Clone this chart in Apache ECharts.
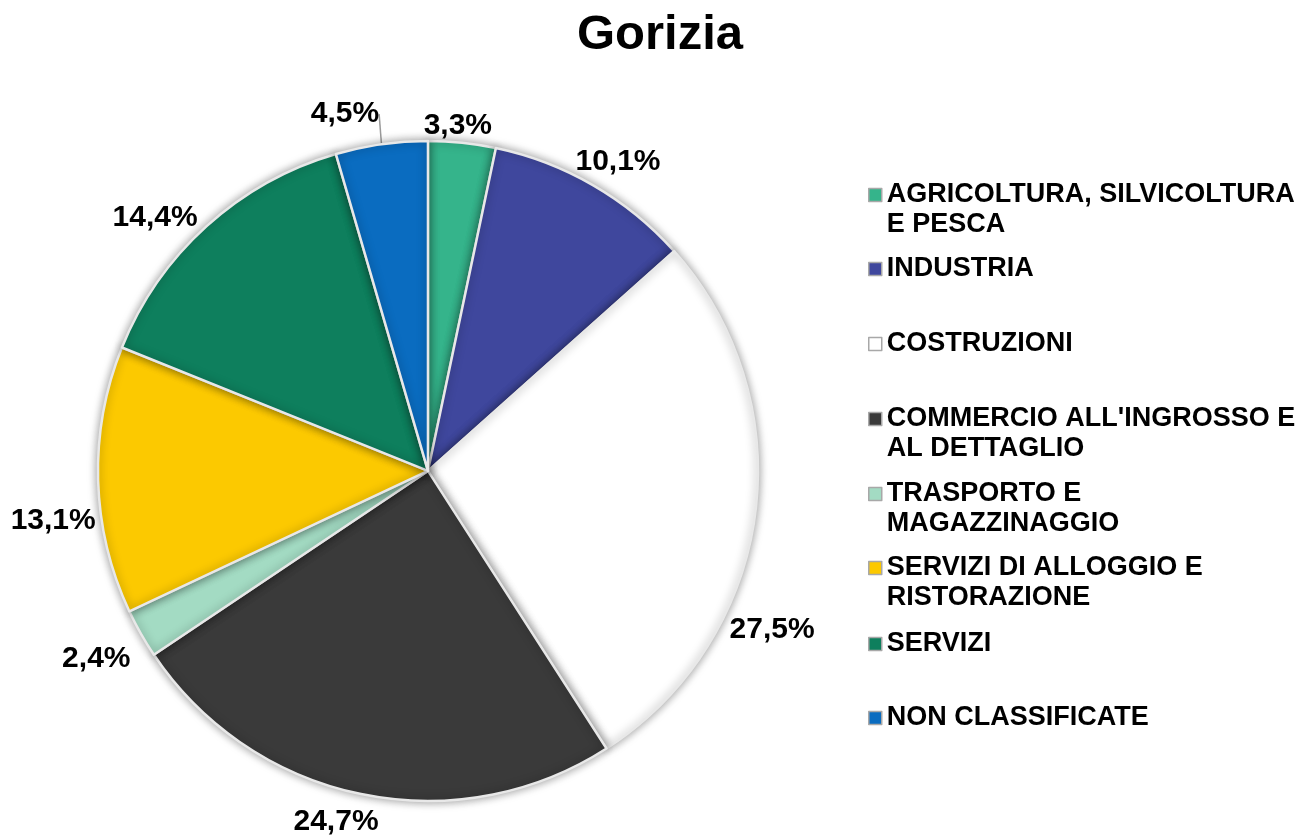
<!DOCTYPE html>
<html>
<head>
<meta charset="utf-8">
<title>Gorizia</title>
<script src="https://cdn.jsdelivr.net/npm/echarts@6/dist/echarts.min.js"></script>
<style>
	html, body { margin: 0; padding: 0; background: #fff; }
	#chart { width: 1304px; height: 835px; }
</style>
</head>
<body>
<div id="chart"></div>
<script>
// dati
var categories = [
	'AGRICOLTURA, SILVICOLTURA E PESCA',
	'INDUSTRIA',
	'COSTRUZIONI',
	"COMMERCIO ALL'INGROSSO E AL DETTAGLIO",
	'TRASPORTO E MAGAZZINAGGIO',
	'SERVIZI DI ALLOGGIO E RISTORAZIONE',
	'SERVIZI',
	'NON CLASSIFICATE'
];
var values = [3.3, 10.1, 27.5, 24.7, 2.4, 13.1, 14.4, 4.5];
var legendText = [
	'AGRICOLTURA, SILVICOLTURA\nE PESCA',
	'INDUSTRIA',
	'COSTRUZIONI',
	"COMMERCIO ALL'INGROSSO E\nAL DETTAGLIO",
	'TRASPORTO E\nMAGAZZINAGGIO',
	'SERVIZI DI ALLOGGIO E\nRISTORAZIONE',
	'SERVIZI',
	'NON CLASSIFICATE'
];
var colors = ['#35b48b', '#3f479d', '#ffffff', '#3a3a3a', '#a3dbc3', '#fcc900', '#0e7f5d', '#0a6cc0'];

// layout
var font = "'Liberation Sans', Arial, sans-serif";
var pieCenter = [0.3282, 0.564];
var pieRadius = 330;
var legendY = [195, 269, 344, 419, 494, 568, 644, 718]; // centro prima riga
// spostamenti etichette (gradi / px), come Excel "adattamento ottimale"
var labelShift = { 0: -1, 1: 1.5, 2: 17, 3: 3, 5: -6, 6: -5, 7: -5 };
var labelPush = { 0: -5, 1: -6, 3: 3, 4: 10, 6: -3, 7: 10 };

var myChart = echarts.init(document.getElementById('chart'));

var total = 0;
for (var i = 0; i < values.length; i++) total += values[i];

var legends = [];
for (var i = 0; i < categories.length; i++) {
	var lines = legendText[i].split('\n').length;
	// riga vuota in testa: il quadratino resta allineato alla prima riga
	var txt = lines > 1 ? '\n' + legendText[i] : legendText[i];
	legends.push({
		data: [categories[i]],
		left: 868,
		top: legendY[i] - 15 - (lines - 1) * 30,
		padding: 0,
		icon: 'rect',
		itemWidth: 13,
		itemHeight: 13,
		itemStyle: { borderColor: '#a8a8a8', borderWidth: 1.5, shadowBlur: 0, shadowColor: 'transparent' },
		selectedMode: false,
		formatter: (function (t) { return function () { return t; }; })(txt),
		textStyle: {
			fontFamily: font,
			fontSize: 27,
			fontWeight: 'bold',
			color: '#000',
			lineHeight: 30
		}
	});
}

var pieData = [];
for (var i = 0; i < categories.length; i++) {
	var item = { name: categories[i], value: values[i] };
	if (i === 7) {
		item.labelLine = { show: true };
	}
	pieData.push(item);
}

var option = {
	animation: false,
	color: colors,
	title: {
		text: 'Gorizia',
		left: 577,
		top: 11,
		padding: 0,
		textStyle: { fontFamily: font, fontSize: 49, fontWeight: 'bold', color: '#000' }
	},
	legend: legends,
	series: [
		{
			type: 'pie',
			radius: pieRadius,
			center: [pieCenter[0] * 100 + '%', pieCenter[1] * 100 + '%'],
			startAngle: 90,
			clockwise: true,
			avoidLabelOverlap: false,
			itemStyle: {
				borderColor: '#e8e8e8',
				borderWidth: 2.5,
				shadowBlur: 10,
				shadowColor: 'rgba(0,0,0,0.4)'
			},
			label: {
				show: true,
				position: 'outside',
				fontFamily: font,
				fontSize: 30,
				fontWeight: 'bold',
				color: '#000',
				formatter: function (p) {
					return p.value.toFixed(1).replace('.', ',') + '%';
				}
			},
			labelLine: {
				show: false,
				length: 12,
				length2: 0,
				lineStyle: { color: '#9a9a9a', width: 1.5 }
			},
			labelLayout: function (params) {
				var i = params.dataIndex;
				var before = 0;
				for (var j = 0; j < i; j++) before += values[j];
				var deg = (before + values[i] / 2) / total * 360 + (labelShift[i] || 0);
				var a = deg * Math.PI / 180;
				var sx = Math.sin(a), sy = -Math.cos(a);
				var w = params.labelRect.width, h = params.labelRect.height;
				var cx = myChart.getWidth() * pieCenter[0];
				var cy = myChart.getHeight() * pieCenter[1];
				var d = pieRadius + 4 + (labelPush[i] || 0) + Math.abs(sx) * w / 2 + Math.abs(sy) * h / 2;
				return {
					x: cx + sx * d,
					y: cy + sy * d,
					align: 'center',
					verticalAlign: 'middle'
				};
			},
			data: pieData
		}
	]
};

myChart.setOption(option);
</script>
</body>
</html>
